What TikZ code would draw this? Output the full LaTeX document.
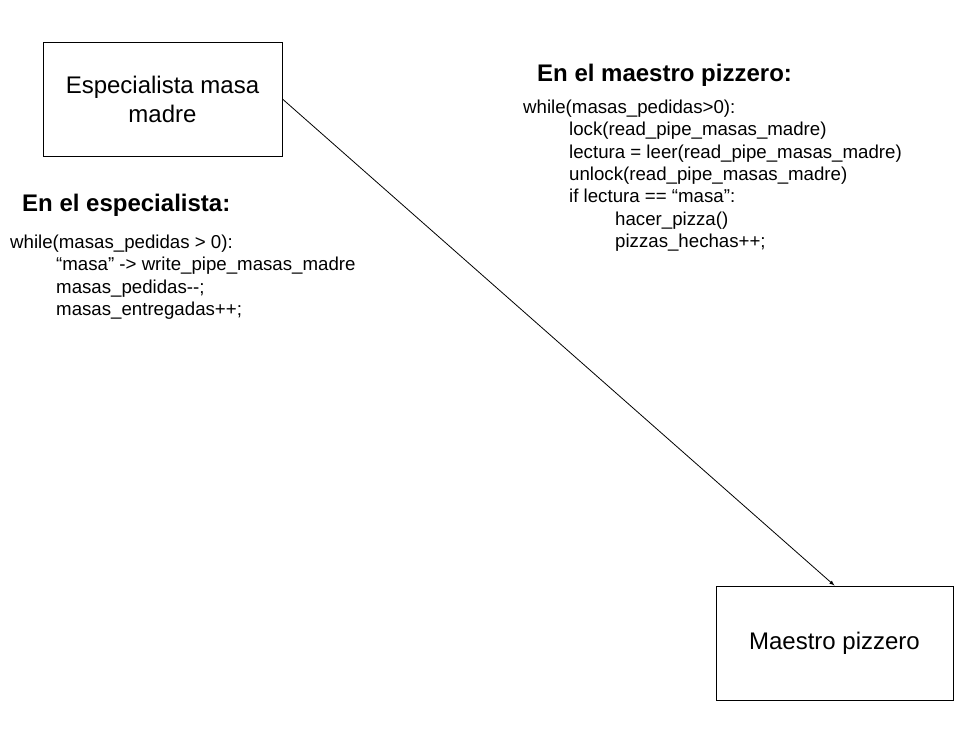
\documentclass[tikz,border=0pt]{standalone}
\usepackage{fontspec}
\setmainfont{Liberation Sans}
\usetikzlibrary{arrows,positioning}

\newcommand{\codetab}{\hspace*{46pt}}

\begin{document}
\begin{tikzpicture}[
  x=1pt, y=-1pt,
  >=latex,
  proc/.style={draw, line width=0.9pt, minimum width=239pt, minimum height=114pt, align=center, font=\fontsize{24}{29}\selectfont},
  heading/.style={inner sep=0pt, anchor=base west, font=\fontsize{24}{27.6}\selectfont\bfseries},
  code/.style={inner sep=0pt, anchor=north west, align=left, font=\fontsize{18.67}{22.4}\selectfont},
  ]
  \useasboundingbox (0,0) rectangle (978,731);
  \node[proc] (Esp) at (162.5,99) {Especialista masa\\madre};
  \node[proc, minimum width=237pt] (Mae) at (834.5,643) {Maestro pizzero};

  \node[heading] (hEsp) at (22,211) {En el especialista:};
  \node[code] (cEsp) at (10,234.6) {while(masas\_pedidas > 0):\\
    \codetab “masa” -> write\_pipe\_masas\_madre\\
    \codetab masas\_pedidas-{}-;\\
    \codetab masas\_entregadas++;};

  \node[heading] (hMae) at (537,81) {En el maestro pizzero:};
  \node[code] (cMae) at (523,99.6) {while(masas\_pedidas>0):\\
    \codetab lock(read\_pipe\_masas\_madre)\\
    \codetab lectura = leer(read\_pipe\_masas\_madre)\\
    \codetab unlock(read\_pipe\_masas\_madre)\\
    \codetab if lectura == “masa”:\\
    \codetab\codetab hacer\_pizza()\\
    \codetab\codetab pizzas\_hechas++;};

  \draw [->, line width=0.8pt] (Esp.east) -- (Mae.north);

\end{tikzpicture}
\end{document}
